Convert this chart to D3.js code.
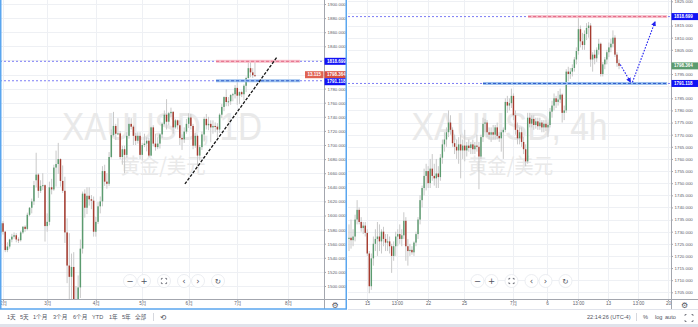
<!DOCTYPE html>
<html>
<head>
<meta charset="utf-8">
<script src="https://cdn.jsdelivr.net/npm/d3@7"></script>
<style>
html, body { margin: 0; padding: 0; background: #fff; }
svg { display: block; font-family: "Liberation Sans", Arial, sans-serif; }
</style>
</head>
<body>
<svg id="chart" width="698" height="327"></svg>
<script>
// ---- data: XAUUSD daily (Jan 31 .. Jul 13), [open, high, low, close]
const dailyBars = [
  [1576,1589,1570,1589],[1589,1592,1573,1577],[1577,1578,1548,1551],[1551,1562,1548,1556],[1556,1567,1553,1566],
  [1566,1574,1562,1570],[1570,1576,1567,1572],[1572,1575,1562,1566],[1566,1569,1561,1565],[1565,1578,1563,1576],
  [1576,1585,1574,1584],[1584,1586,1577,1581],[1581,1604,1579,1601],[1601,1612,1599,1611],[1611,1624,1603,1620],
  [1620,1649,1615,1643],[1650,1689,1640,1658],[1658,1660,1625,1635],[1635,1650,1632,1642],[1642,1660,1636,1643],
  [1643,1644,1563,1585],[1585,1603,1577,1591],[1591,1648,1586,1640],[1640,1652,1630,1637],[1637,1672,1635,1668],
  [1668,1692,1641,1673],[1673,1703,1659,1680],[1680,1681,1641,1649],[1649,1671,1632,1635],[1635,1655,1561,1576],
  [1576,1596,1504,1529],[1529,1575,1451,1513],[1513,1546,1472,1527],[1527,1548,1475,1477],[1477,1500,1455,1472],
  [1472,1515,1463,1498],[1498,1566,1483,1553],[1553,1634,1546,1631],[1631,1637,1597,1611],[1611,1640,1602,1628],
  [1628,1640,1614,1623],[1623,1629,1609,1621],[1621,1627,1570,1577],[1577,1598,1570,1591],[1591,1619,1588,1613],
  [1613,1627,1603,1620],[1620,1670,1613,1663],[1663,1672,1642,1648],[1648,1660,1638,1645],[1645,1690,1642,1683],
  [1683,1722,1681,1714],[1714,1747,1712,1727],[1727,1730,1707,1716],[1716,1738,1714,1716.5],[1716.5,1720,1680,1683],
  [1683,1699,1672,1694],[1694,1699,1660,1686],[1686,1718,1682,1713],[1713,1739,1709,1730],[1730,1738,1722,1726],
  [1726,1728,1700,1713],[1713,1717,1700,1706],[1706,1718,1702,1713],[1713,1718,1680,1686],[1686,1703,1678,1700],
  [1700,1716,1697,1702],[1702,1711,1691,1706],[1706,1710,1683,1685],[1685,1726,1684,1725],[1725,1728,1698,1702],
  [1702,1716,1692,1697],[1697,1711,1694,1702],[1702,1717,1695,1715],[1715,1732,1710,1730],[1730,1749,1728,1743],
  [1743,1765,1722,1733],[1733,1747,1728,1745],[1745,1753,1740,1747],[1747,1748,1716,1725],[1725,1737,1723,1735],
  [1735,1736,1722,1728],[1728,1735,1700,1710],[1710,1715,1693,1708],[1708,1725,1703,1719],[1719,1737,1716,1730],
  [1730,1745,1724,1739],[1739,1744,1722,1727],[1727,1730,1694,1699],[1699,1717,1696,1713],[1713,1715,1670,1685],
  [1685,1700,1678,1697],[1697,1719,1693,1715],[1715,1740,1705,1737],[1737,1744,1722,1728],[1728,1740,1721,1730],
  [1730,1735,1704,1725],[1725,1735,1716,1727],[1727,1732,1718,1726],[1726,1731,1711,1722],[1722,1745,1717,1743],
  [1743,1758,1738,1754],[1754,1769,1748,1768],[1768,1779,1755,1761],[1761,1768,1755,1762],[1762,1772,1757,1771],
  [1771,1774,1762,1772],[1772,1785,1766,1781],[1781,1789,1757,1770],[1770,1776,1758,1775],[1775,1777,1768,1772],
  [1772,1786,1763,1784],[1784,1797,1775,1795],[1795,1818,1794,1809],[1809,1818,1796,1803],[1803,1809,1795,1799],
  [1799,1817,1797,1798.4]
]
const dailyTickIdx = [1, 21, 43, 64, 85, 107, 130]
const dailyTickLabels = ['2月', '3月', '4月', '5月', '6月', '7月', '8月']
const dailyPriceTicks = [1500,1520,1540,1560,1580,1600,1620,1640,1660,1680,1700,1720,1740,1760,1780,1800,1820,1840,1860,1880,1900]

// ---- data: XAUUSD 4h (Jun 12 .. Jul 13), [open, high, low, close]
const h4Bars = [
  [1727,1733,1722,1727.5],[1727.5,1735,1723,1726.5],[1726.5,1731,1724,1728],[1728,1737,1726,1735],[1735,1743,1733,1739],
  [1739,1740,1733,1734],[1734,1736,1730,1731.5],[1731.5,1734,1729,1732.5],[1732.5,1734,1728,1729.5],[1729.5,1731,1720,1721],
  [1721,1722,1704.6,1707.5],[1707.5,1721,1706,1719],[1719,1728,1716,1725],[1725,1731,1722,1727],[1727,1734,1720,1728],
  [1728,1733,1722,1726],[1726,1731,1721,1730],[1730,1732,1724,1727],[1727,1729,1722,1725.5],[1725.5,1729,1722,1726],
  [1726,1728,1721,1724],[1724,1725,1713,1720],[1720,1726,1718,1724],[1724,1730,1720,1728],[1728,1731,1724,1729],
  [1729,1733,1725,1727],[1727,1731,1724,1728.5],[1728.5,1738,1727,1734.5],[1734.5,1736,1718,1724],[1724,1727,1716,1722],
  [1722,1725,1720,1722.5],[1722.5,1724,1720.5,1721.5],[1721.5,1726,1720,1725.5],[1725.5,1730,1724,1729],[1729,1736,1727,1735],
  [1735,1745,1733,1743],[1743,1749,1740,1748],[1748,1756,1745,1753],[1753,1758,1747,1755],[1755,1757,1748,1750],
  [1750,1760,1748,1756],[1756,1762,1751,1753],[1753,1758,1749,1752],[1752,1760,1748,1754],[1754,1757,1748,1752.5],
  [1752.5,1762,1751,1760.5],[1760.5,1768,1758,1766],[1766,1771,1763,1768],[1768,1773,1765,1771],[1771,1780,1769,1775],
  [1775,1778,1770,1772],[1772,1773,1765,1766.5],[1766.5,1770,1762,1765],[1765,1768,1760,1763.5],[1763.5,1769,1758,1766],
  [1766,1770,1752,1763.5],[1763.5,1768,1760,1765.5],[1765.5,1772,1759,1763.5],[1763.5,1767,1761,1765.5],[1765.5,1768,1763,1764.5],
  [1764.5,1767,1762,1766],[1766,1768,1762,1764],[1764,1767,1762,1765.5],[1765.5,1770,1763,1765],[1765,1767,1747.5,1761],
  [1761,1770,1760,1769],[1769,1777,1767,1774.5],[1774.5,1776.5,1771,1775],[1775,1776,1769,1771],[1771,1773,1768,1770],
  [1770,1773,1767,1771],[1771,1774,1768,1770],[1770,1774,1768,1773],[1773,1775,1768,1769.5],[1769.5,1771,1767,1768.5],
  [1768.5,1772,1763,1771],[1771,1773,1760,1772],[1772,1785,1771,1783.5],[1783.5,1786,1779,1782],[1782,1785,1780,1783],
  [1783,1789,1781,1786],[1786,1787,1776,1778],[1778,1780,1770,1772],[1772,1775,1766,1768.5],[1768.5,1773,1766,1771],
  [1771,1773,1765,1767],[1767,1769,1762,1764],[1764,1766,1757,1759],[1759,1779,1758,1777],[1777,1779,1773,1774.5],
  [1774.5,1778,1773,1776.5],[1776.5,1778,1772,1774],[1774,1777,1772.5,1775.5],[1775.5,1777,1772,1773.5],[1773.5,1777,1772,1775],
  [1775,1776,1771,1773],[1773,1776,1771,1774.5],[1774.5,1776,1771.5,1773],[1773,1775,1769,1774],[1774,1781,1773,1779.5],
  [1779.5,1784,1777,1782],[1782,1787,1780,1785],[1785,1786,1781,1783.5],[1783.5,1788,1782,1784.5],[1784.5,1789,1783,1786.5],
  [1786.5,1787,1775,1779],[1779,1782,1776,1780],[1780,1797,1779,1796],[1796,1798,1792,1795],[1795,1797.5,1793,1796],
  [1796,1799,1794,1797.5],[1797.5,1802,1796,1801],[1801,1806,1799,1804.5],[1804.5,1818,1803,1813.5],[1813.5,1815,1806,1808.5],
  [1808.5,1812,1805,1807],[1807,1813,1805,1811.5],[1811.5,1816,1809,1814],[1814,1816.5,1810,1815],[1815,1816,1798,1801],
  [1801,1804,1796,1803],[1803,1805,1799,1801.5],[1801.5,1806,1800,1805],[1805,1809.5,1803,1807.5],[1807.5,1808,1794,1795],
  [1795,1800,1794,1799],[1799,1802,1797,1801],[1801,1805,1799,1804],[1804,1808,1802,1806],[1806,1809.5,1804,1807.5],
  [1807.5,1813,1806,1810],[1810,1811,1802,1803],[1803,1804,1798,1799.5],[1799.5,1801,1797,1798.4]
]
const h4TickIdx = [8.9, 23.6, 38.9, 56.7, 80.8, 97.5, 112.8, 127.6, 142.4, 157.1]
const h4TickLabels = ['15', '13:00', '22', '25', '7月', '6', '13:00', '13', '13:00', '20']
const h4PriceTicks = [1705,1710,1715,1720,1725,1730,1735,1740,1745,1750,1755,1760,1765,1770,1775,1780,1785,1790,1795,1800,1805,1810,1815,1820,1825]

// levels and drawings
const levelHigh = 1818.699
const levelLow = 1791.118
const lastPrice = 1798.364
const countdownText = '13.115'
const dailyTrend = [[83.3, 1644.7], [125, 1824.8]]
const dailyZones = { high: [97.4, 135.4], low: [97.4, 135.4] }
const h4Zones = { high: [88.2, 156.7], low: [66, 156.7] }
const h4Arrows = [
  [[133.6, 1798.9], [138.6, 1791.8]],
  [[139.6, 1791.6], [150.7, 1816.5]]
]

const upColor = '#5b9b6f', downColor = '#a63b2f', wickColor = '#c9c9c9'
const gridColor = '#eef0f4', axisColor = '#a3a6ae', textColor = '#5d606b'
const levelBlue = '#5c5cf2', tagBlue = '#1212f5'

var svg = d3.select('#chart')
var defs = svg.append('defs')
defs.append('marker').attr('id', 'arrowHead')
    .attr('viewBox', '0 0 10 10').attr('refX', 8).attr('refY', 5)
    .attr('markerWidth', 4.5).attr('markerHeight', 4.5).attr('orient', 'auto')
    .append('path').attr('d', 'M0,0L10,5L0,10z').attr('fill', '#2323f0')

function drawPanel(p) {
    var g = svg.append('g')
    var x = d3.scaleLinear().domain(p.xDomain).range([p.left, p.right])
    var y = d3.scaleLinear().domain(p.yDomain).range(p.yRange)
    var clipId = 'clip-' + p.id
    defs.append('clipPath').attr('id', clipId).append('rect')
        .attr('x', p.left).attr('y', 0).attr('width', p.right - p.left).attr('height', p.bottom)

    // grid
    g.append('g').selectAll('line').data(p.priceTicks).join('line')
        .attr('x1', p.left).attr('x2', p.right)
        .attr('y1', d => Math.round(y(d)) + 0.5).attr('y2', d => Math.round(y(d)) + 0.5)
        .attr('stroke', gridColor)
    g.append('g').selectAll('line').data(p.timeTicks).join('line')
        .attr('x1', d => Math.round(x(d)) + 0.5).attr('x2', d => Math.round(x(d)) + 0.5)
        .attr('y1', 0).attr('y2', p.bottom)
        .attr('stroke', gridColor)

    // watermark
    var cx = (p.left + p.right) / 2
    g.append('text').text(p.watermark)
        .attr('x', cx).attr('y', 140).attr('text-anchor', 'middle')
        .attr('font-size', 38).attr('fill', '#e9e9e9')
        .attr('textLength', p.wmWidth).attr('lengthAdjust', 'spacingAndGlyphs')
    g.append('text').text('黄金/美元')
        .attr('x', cx + 1).attr('y', 173).attr('text-anchor', 'middle')
        .attr('font-family', '"Noto Sans CJK SC", sans-serif')
        .attr('font-size', 21).attr('fill', '#e9e9e9')
        .attr('textLength', 85).attr('lengthAdjust', 'spacingAndGlyphs')

    var plot = g.append('g').attr('clip-path', `url(#${clipId})`)

    // full width dotted levels
    plot.selectAll('line.level').data([levelHigh, levelLow]).join('line')
        .attr('class', 'level')
        .attr('x1', p.left).attr('x2', p.right)
        .attr('y1', d => y(d)).attr('y2', d => y(d))
        .attr('stroke', levelBlue).attr('stroke-width', 0.8).attr('stroke-dasharray', '2,2')

    // candles
    var c = plot.append('g')
    c.selectAll('line').data(p.bars).join('line')
        .attr('x1', (d, i) => x(i)).attr('x2', (d, i) => x(i))
        .attr('y1', d => y(d[1])).attr('y2', d => y(d[2]))
        .attr('stroke', wickColor).attr('stroke-width', 1)
    c.selectAll('rect').data(p.bars).join('rect')
        .attr('x', (d, i) => x(i) - p.bodyW / 2)
        .attr('width', p.bodyW)
        .attr('y', d => y(Math.max(d[0], d[3])))
        .attr('height', d => Math.max(1, Math.abs(y(d[0]) - y(d[3]))))
        .attr('fill', d => d[3] >= d[0] ? upColor : downColor)

    // zones
    plot.append('rect')
        .attr('x', x(p.zones.high[0])).attr('width', x(p.zones.high[1]) - x(p.zones.high[0]))
        .attr('y', y(levelHigh) - 1.5).attr('height', 3).attr('fill', '#f6bfca')
    plot.append('line')
        .attr('x1', x(p.zones.high[0])).attr('x2', x(p.zones.high[1]))
        .attr('y1', y(levelHigh)).attr('y2', y(levelHigh))
        .attr('stroke', '#e35d7f').attr('stroke-width', 0.9).attr('stroke-dasharray', '3,2')
    plot.append('rect')
        .attr('x', x(p.zones.low[0])).attr('width', x(p.zones.low[1]) - x(p.zones.low[0]))
        .attr('y', y(levelLow) - 1.5).attr('height', 3).attr('fill', '#9cc0ee')
    plot.append('line')
        .attr('x1', x(p.zones.low[0])).attr('x2', x(p.zones.low[1]))
        .attr('y1', y(levelLow)).attr('y2', y(levelLow))
        .attr('stroke', '#2150c8').attr('stroke-width', 0.9).attr('stroke-dasharray', '3,2')

    if (p.trend) {
        plot.append('line')
            .attr('x1', x(p.trend[0][0])).attr('y1', y(p.trend[0][1]))
            .attr('x2', x(p.trend[1][0])).attr('y2', y(p.trend[1][1]))
            .attr('stroke', '#151515').attr('stroke-width', 1.3).attr('stroke-dasharray', '3,1.5')
    }
    if (p.arrows) {
        plot.selectAll('line.arrow').data(p.arrows).join('line')
            .attr('class', 'arrow')
            .attr('x1', d => x(d[0][0])).attr('y1', d => y(d[0][1]))
            .attr('x2', d => x(d[1][0])).attr('y2', d => y(d[1][1]))
            .attr('stroke', '#2323f0').attr('stroke-width', 1.1).attr('stroke-dasharray', '1.6,1.4')
            .attr('marker-end', 'url(#arrowHead)')
    }

    // navigation buttons
    var nav = g.append('g')
    var offs = [-32, -18, 2, 22, 36, 56]
    var glyphs = ['−', '+', '', '‹', '›', '↻']
    offs.forEach((o, k) => {
        var bx = cx + o, by = 281
        nav.append('circle').attr('cx', bx).attr('cy', by).attr('r', 6.5)
            .attr('fill', '#fff').attr('stroke', '#e6e8ee').attr('stroke-width', 0.8)
        if (k === 2) {
            var s = 2.6, t = 1.3
            var d = `M${bx - s},${by - s + t}V${by - s}H${bx - s + t}M${bx + s - t},${by - s}H${bx + s}V${by - s + t}` +
                `M${bx + s},${by + s - t}V${by + s}H${bx + s - t}M${bx - s + t},${by + s}H${bx - s}V${by + s - t}`
            nav.append('path').attr('d', d).attr('fill', 'none').attr('stroke', '#50535e').attr('stroke-width', 0.8)
        } else {
            nav.append('text').text(glyphs[k]).attr('x', bx).attr('y', by + (k === 5 ? 2.6 : 2.8))
                .attr('text-anchor', 'middle').attr('font-size', k === 5 ? 7.5 : 8.5)
                .attr('font-family', '"DejaVu Sans", sans-serif').attr('fill', '#50535e')
        }
    })

    // price tags positions (pushed apart when they collide)
    var tagH = 7
    var tags = p.tags.map(t => Object.assign({ cy: y(t.value) }, t))
    tags.sort((a, b) => a.cy - b.cy)
    for (let k = 1; k < tags.length; k++) {
        let over = tags[k - 1].cy + tagH - tags[k].cy
        if (over > 0) { tags[k - 1].cy -= over / 2; tags[k].cy += over / 2 }
    }
    // tick labels hidden under the tags
    var visibleTicks = p.priceTicks.filter(v => tags.every(t => Math.abs(y(v) - t.cy) > tagH / 2 + 1.5))

    // price axis
    var axY = d3.axisRight(y).tickValues(visibleTicks).tickFormat(d3.format('.3f')).tickSize(2).tickPadding(1.5)
    var gy = g.append('g').attr('transform', `translate(${p.right},0)`).call(axY)
    gy.select('.domain').remove()
    gy.selectAll('line').attr('stroke', axisColor)
    gy.selectAll('text').attr('font-size', 4.4).attr('fill', textColor).attr('font-family', '"Liberation Sans", Arial, sans-serif')
    g.append('line').attr('x1', p.right + 0.5).attr('x2', p.right + 0.5).attr('y1', 0).attr('y2', p.bottom + 10)
        .attr('stroke', axisColor).attr('stroke-width', 1)

    // time axis
    var axX = d3.axisBottom(x).tickValues(p.timeTicks).tickFormat((d, i) => p.timeLabels[i]).tickSize(2).tickPadding(1)
    var gx = g.append('g').attr('transform', `translate(0,${p.bottom})`).call(axX)
    gx.select('.domain').remove()
    gx.selectAll('line').attr('stroke', axisColor)
    gx.selectAll('text').attr('font-size', 4.6).attr('fill', textColor)
        .attr('font-family', '"Liberation Sans", "Noto Sans CJK SC", sans-serif')
    g.append('line').attr('x1', p.left).attr('x2', p.axisEnd).attr('y1', p.bottom + 0.5).attr('y2', p.bottom + 0.5)
        .attr('stroke', axisColor).attr('stroke-width', 1)
    // settings gear
    g.append('text').text('⚙').attr('x', (p.right + p.axisEnd) / 2).attr('y', p.bottom + 8.5)
        .attr('text-anchor', 'middle').attr('font-size', 8).attr('fill', '#50535e')
        .attr('font-family', '"DejaVu Sans", sans-serif')

    // tags
    tags.forEach(t => {
        var tg = g.append('g')
        tg.append('rect').attr('x', p.right + 0.5).attr('y', t.cy - tagH / 2)
            .attr('width', p.axisEnd - p.right - 0.5).attr('height', tagH).attr('fill', t.color)
        tg.append('text').text(d3.format('.3f')(t.value))
            .attr('x', p.right + 3).attr('y', t.cy + 1.6)
            .attr('font-size', 4.5).attr('font-weight', 'bold').attr('fill', '#fff')
        if (t.extra) {
            tg.append('rect').attr('x', p.right - 19).attr('y', t.cy - tagH / 2)
                .attr('width', 18.5).attr('height', tagH).attr('fill', '#e06352')
            tg.append('text').text(t.extra)
                .attr('x', p.right - 9.8).attr('y', t.cy + 1.6).attr('text-anchor', 'middle')
                .attr('font-size', 4.5).attr('font-weight', 'bold').attr('fill', '#fff')
        }
    })
}

// background
svg.append('rect').attr('width', 698).attr('height', 327).attr('fill', '#fff')

drawPanel({
    id: 'daily', bars: dailyBars,
    left: 0, right: 324, bottom: 299, axisEnd: 346,
    xDomain: [-0.362, 146.24], yDomain: [1500, 1900], yRange: [286, 4],
    priceTicks: dailyPriceTicks, timeTicks: dailyTickIdx, timeLabels: dailyTickLabels,
    bodyW: 1.5, watermark: 'XAUUSD, 1D', wmWidth: 200,
    zones: dailyZones, trend: dailyTrend,
    tags: [
        { value: levelHigh, color: tagBlue },
        { value: lastPrice, color: '#d94f3f', extra: countdownText },
        { value: levelLow, color: tagBlue }
    ]
})

drawPanel({
    id: 'h4', bars: h4Bars,
    left: 348, right: 671, bottom: 299, axisEnd: 698,
    xDomain: [-0.493, 158.6], yDomain: [1705, 1825], yRange: [292.3, 1.3],
    priceTicks: h4PriceTicks, timeTicks: h4TickIdx, timeLabels: h4TickLabels,
    bodyW: 1.4, watermark: 'XAUUSD, 4h', wmWidth: 196,
    zones: h4Zones, arrows: h4Arrows,
    tags: [
        { value: levelHigh, color: tagBlue },
        { value: lastPrice, color: '#5b9b6f' },
        { value: levelLow, color: tagBlue }
    ]
})

// bottom toolbars
var tb = svg.append('g').attr('font-size', 5.6).attr('fill', '#50535e')
    .attr('font-family', '"Liberation Sans", "Noto Sans CJK SC", sans-serif')
const rangeButtons = ['1天', '5天', '1个月', '3个月', '6个月', 'YTD', '1年', '5年', '全部']
const rangeX = [7, 20, 33, 53, 73, 92, 109, 122, 135]
rangeButtons.forEach((t, i) => tb.append('text').text(t).attr('x', rangeX[i]).attr('y', 319))
tb.append('line').attr('x1', 153.5).attr('x2', 153.5).attr('y1', 313).attr('y2', 321).attr('stroke', '#d6d8de')
tb.append('text').text('⟲').attr('x', 160).attr('y', 320).attr('font-size', 7.5)
    .attr('font-family', '"DejaVu Sans", sans-serif')
tb.append('text').text('22:14:26 (UTC-4)').attr('x', 587).attr('y', 319)
tb.append('line').attr('x1', 636.5).attr('x2', 636.5).attr('y1', 313).attr('y2', 321).attr('stroke', '#d6d8de')
tb.append('text').text('%').attr('x', 643).attr('y', 319)
tb.append('text').text('log').attr('x', 655).attr('y', 319)
tb.append('text').text('auto').attr('x', 665).attr('y', 319)
tb.append('path').attr('d', 'M685,316V314.5H686.5M691.5,314.5H693V316M693,320V321.5H691.5M686.5,321.5H685V320')
    .attr('fill', 'none').attr('stroke', '#50535e').attr('stroke-width', 0.7)

svg.append('line').attr('x1', 348).attr('x2', 698).attr('y1', 309.5).attr('y2', 309.5).attr('stroke', '#e0e3eb')
svg.append('rect').attr('x', 0).attr('y', 324).attr('width', 698).attr('height', 3).attr('fill', '#e0e3eb')

// selected panel frame
svg.append('rect').attr('x', 0.75).attr('y', -2).attr('width', 345.5).attr('height', 311)
    .attr('fill', 'none').attr('stroke', '#5aa6ef').attr('stroke-width', 1.5)
</script>
</body>
</html>
